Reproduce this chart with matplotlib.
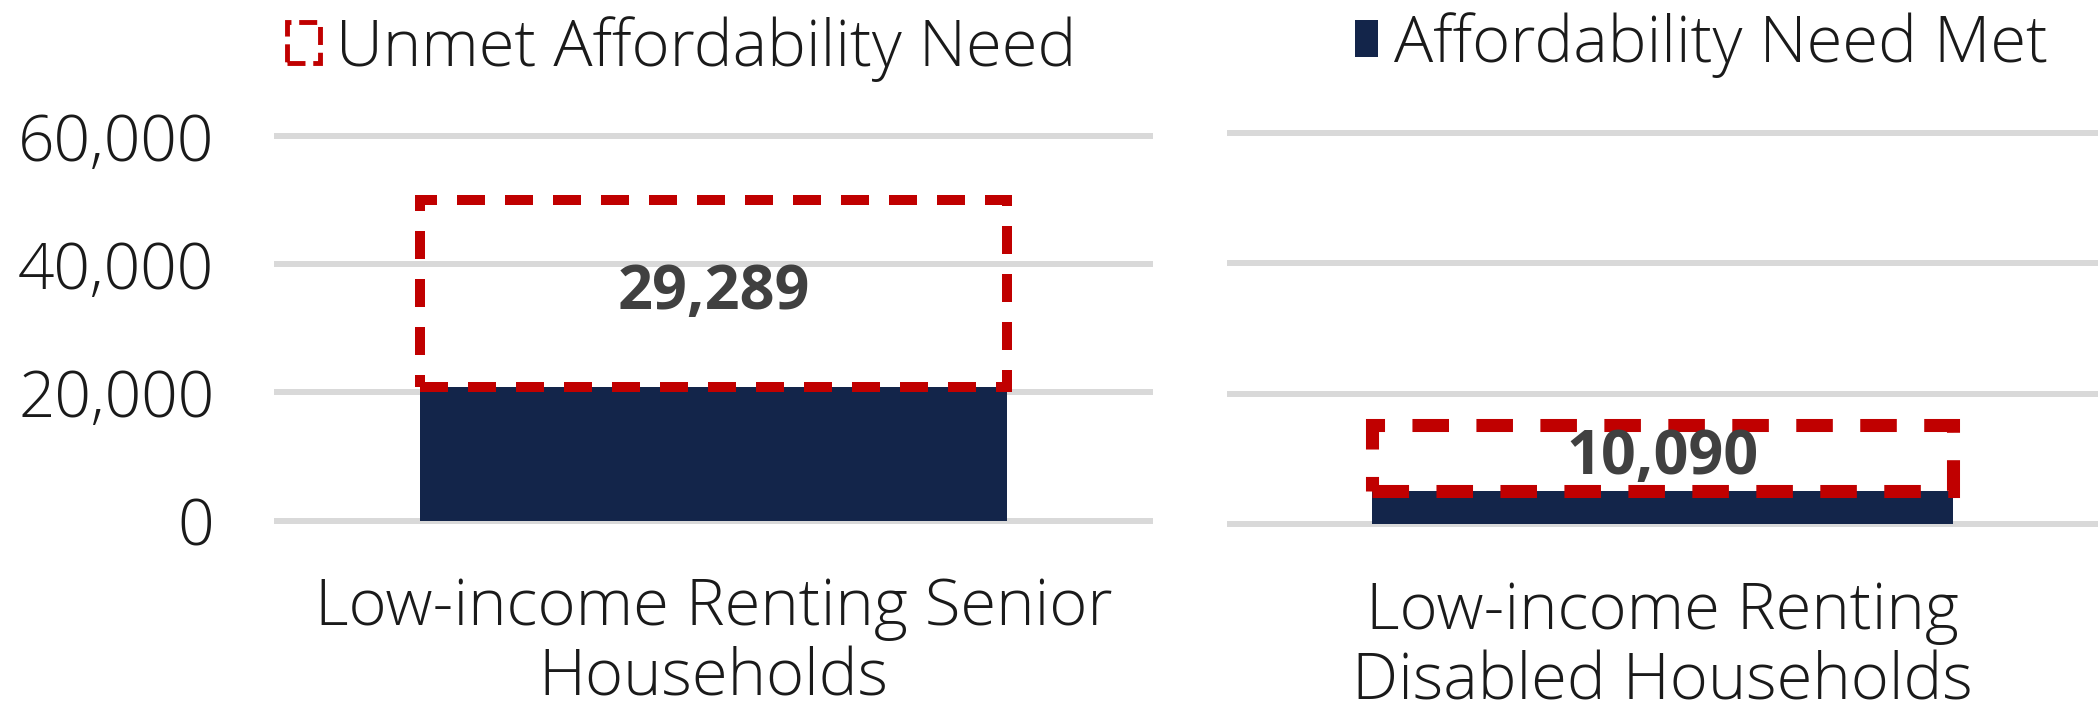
import matplotlib.pyplot as plt
from matplotlib.patches import Patch
from matplotlib.ticker import FuncFormatter

# Data
categories = ["Low-income Renting Senior\nHouseholds", "Low-income Renting\nDisabled Households"]
need_met = [20800, 5100]
unmet_need = [29289, 10090]
y_ticks = [0, 20000, 40000, 60000]

met_color = "#13254A"
unmet_color = "#C00000"
grid_color = "#D9D9D9"
text_color = "#1A1A1A"
label_color = "#404040"

plt.rcParams["font.family"] = ["Open Sans", "DejaVu Sans"]
plt.rcParams["font.weight"] = "light"

fig = plt.figure(figsize=(20.98, 7.13), dpi=100)
ax_left = fig.add_axes([0.1306, 0.261, 0.419, 0.5566])
ax_right = fig.add_axes([0.5848, 0.2553, 0.4152, 0.568])


def draw_panel(ax, i, show_yticks, lw, dash):
    ax.bar(0, need_met[i], width=0.667, color=met_color, zorder=2)
    ax.bar(
        0,
        unmet_need[i],
        bottom=need_met[i],
        width=0.667,
        facecolor="none",
        edgecolor=unmet_color,
        linestyle=(0, dash),
        linewidth=lw,
        zorder=3,
    )
    ax.text(
        0,
        need_met[i] + unmet_need[i] / 2,
        f"{unmet_need[i]:,}",
        ha="center",
        va="center",
        fontsize=44,
        fontweight="bold",
        color=label_color,
        zorder=4,
    )

    ax.set_xlim(-0.5, 0.5)
    ax.set_ylim(-1000, 61000)
    ax.set_yticks(y_ticks)
    ax.yaxis.set_major_formatter(FuncFormatter(lambda v, p: f"{int(v):,}"))
    ax.grid(axis="y", color=grid_color, linewidth=4.3, zorder=0)
    ax.set_axisbelow(True)
    for s in ax.spines.values():
        s.set_visible(False)
    ax.tick_params(axis="both", length=0)
    ax.tick_params(axis="y", pad=43, labelsize=46, labelcolor=text_color)
    if not show_yticks:
        ax.tick_params(axis="y", labelleft=False)
    ax.set_xticks([0])
    ax.set_xticklabels([categories[i]], fontsize=47, color=text_color, linespacing=1.13)
    ax.tick_params(axis="x", pad=35)


draw_panel(ax_left, 0, True, 7.2, (2.8, 2.0))
draw_panel(ax_right, 1, False, 9.4, (2.8, 2.1))

# Each panel carries half of the legend
ax_left.legend(
    handles=[Patch(facecolor="white", edgecolor=unmet_color, linestyle="--", linewidth=3.5)],
    labels=["Unmet Affordability Need"],
    loc="center",
    bbox_to_anchor=(0.464, 1.205),
    frameon=False,
    fontsize=47,
    handlelength=0.5,
    handleheight=0.6,
    handletextpad=0.25,
    labelcolor=text_color,
)
ax_right.legend(
    handles=[Patch(facecolor=met_color)],
    labels=["Affordability Need Met"],
    loc="center",
    bbox_to_anchor=(0.545, 1.20),
    frameon=False,
    fontsize=47,
    handlelength=0.35,
    handleheight=0.5,
    handletextpad=0.25,
    labelcolor=text_color,
)

fig.savefig("out.png", dpi=100)
